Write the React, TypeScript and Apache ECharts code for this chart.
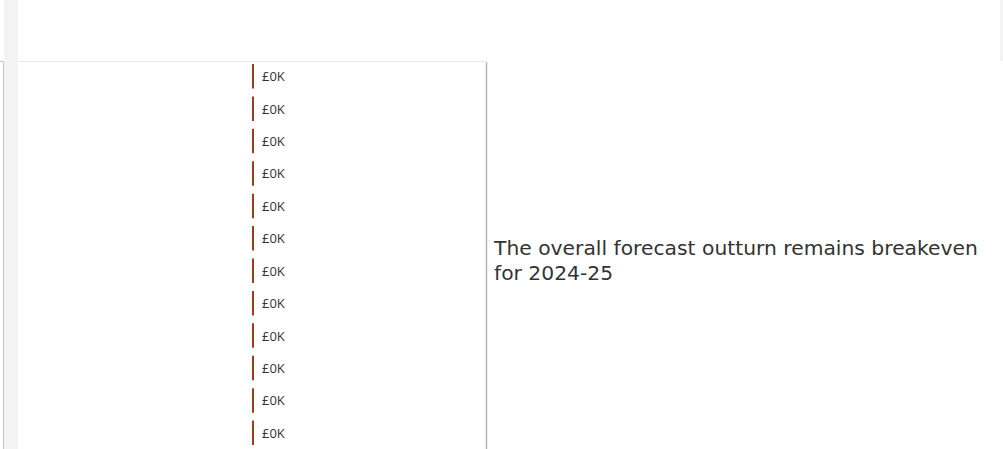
import React, { useEffect, useRef } from "react";
import * as echarts from "echarts";

const categories = ["1", "2", "3", "4", "5", "6", "7", "8", "9", "10", "11", "12"];
const values = [0, 0, 0, 0, 0, 0, 0, 0, 0, 0, 0, 0];
const noteText = "The overall forecast outturn remains breakeven for 2024-25";

export default function App() {
  const ref = useRef<HTMLDivElement>(null);
  useEffect(() => {
    document.body.style.margin = "0";
    const chart = echarts.init(ref.current!, undefined, { renderer: "svg" });
    chart.setOption({
      animation: false,
      backgroundColor: "#ffffff",
      grid: { left: 18, right: 517, top: 60, height: 390.6, containLabel: false },
      xAxis: { type: "value", min: -1, max: 1, show: false },
      yAxis: { type: "category", data: categories, inverse: true, show: false },
      graphic: [
        { type: "rect", shape: { x: 4, y: 0, width: 14, height: 449 }, style: { fill: "#f3f3f3" }, silent: true },
        { type: "rect", shape: { x: 1000, y: 0, width: 3, height: 61 }, style: { fill: "#f3f3f3" }, silent: true },
        { type: "line", shape: { x1: 3.5, y1: 61.5, x2: 3.5, y2: 449 }, style: { stroke: "#c4c4c4", lineWidth: 1 }, silent: true },
        { type: "line", shape: { x1: 0, y1: 61.5, x2: 3.5, y2: 61.5 }, style: { stroke: "#c4c4c4", lineWidth: 1 }, silent: true },
        { type: "line", shape: { x1: 18, y1: 61.5, x2: 486, y2: 61.5 }, style: { stroke: "#e8e8e8", lineWidth: 1 }, silent: true },
        { type: "line", shape: { x1: 486.5, y1: 62, x2: 486.5, y2: 449 }, style: { stroke: "#b4b4b4", lineWidth: 1.5 }, silent: true },
        {
          type: "text",
          x: 494,
          y: 235,
          style: {
            text: noteText,
            width: 505,
            overflow: "break",
            fontSize: 20.3,
            lineHeight: 25,
            fontFamily: "DejaVu Sans",
            fill: "#333333",
          },
        },
      ],
      series: [
        {
          type: "bar",
          data: values,
          barWidth: 24.5,
          barMinHeight: 2,
          itemStyle: { color: "#a23a20" },
          label: {
            show: true,
            position: "right",
            distance: 8,
            formatter: (p: any) => `£${p.value}K`,
            fontSize: 13,
            fontFamily: "Open Sans",
            color: "#333333",
          },
        },
      ],
    });
    return () => chart.dispose();
  }, []);
  return <div ref={ref} style={{ width: 1003, height: 449 }} />;
}
